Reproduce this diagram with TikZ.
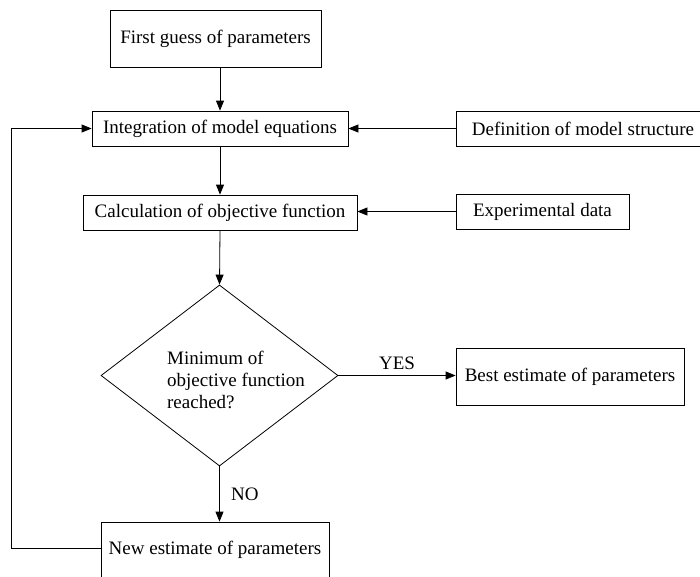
\documentclass[tikz,border=0pt]{standalone}
\usepackage{fontspec}
\setmainfont{Liberation Serif}
\usepackage{tikz}
\usetikzlibrary{arrows.meta,shapes.geometric}
\tikzset{
  >={Triangle[length=10pt,width=8pt]},
  pbox/.style ={draw, inner sep=0pt, font=\fontsize{19}{22}\selectfont},
  dbox/.style ={draw, diamond, inner sep=0pt, minimum width=237pt, minimum height=181pt},
  lbl/.style  ={font=\fontsize{19}{22}\selectfont}
}
\begin{document}
\begin{tikzpicture}[x=1pt,y=-1pt,line width=0.8pt]
\useasboundingbox (0,0) rectangle (700,576);
\clip (0,0) rectangle (700,576);
\node[pbox, minimum width=211pt, minimum height=57pt] (guess) at (215.5,38.5) {First guess of parameters};
\node[pbox, minimum width=256pt, minimum height=35pt] (integ) at (220,128.5) {Integration of model equations};
\node[pbox, minimum width=254pt, minimum height=35pt] (defin) at (583,128.5) {Definition of model structure};
\node[pbox, minimum width=274pt, minimum height=35pt] (calc)  at (220,212.5) {Calculation of objective function};
\node[pbox, minimum width=173pt, minimum height=35pt] (expd)  at (542.5,211.5) {Experimental data};
\node[dbox] (mini) at (219.5,375.5) {};
\node[lbl, align=left, inner sep=0pt] (minitxt) at (236,380) {Minimum of\\objective function\\reached?};
\node[pbox, minimum width=228pt, minimum height=57pt] (best)  at (570,376.5) {Best estimate of parameters};
\node[pbox, minimum width=228pt, minimum height=56pt] (newe)  at (215,550) {New estimate of parameters};
\coordinate (loop) at (11,548);

\draw[->] (guess.south -| integ) -- (integ.north);
\draw[->] (defin.west) -- (integ.east);
\draw[->] (integ.south) -- (calc.north);
\draw[->] (expd.west) -- (calc.east |- expd.west);
\draw[->] (calc.south) -- (mini.north);
\draw[->] (mini.east) -- node[lbl, above=2pt] {YES} (best.west |- mini.east);
\draw[->] (mini.south) -- node[lbl, right=8pt] {NO} (newe.north -| mini.south);
\draw[->] (newe.west |- loop) -- (loop) |- (integ.west);
\end{tikzpicture}
\end{document}
